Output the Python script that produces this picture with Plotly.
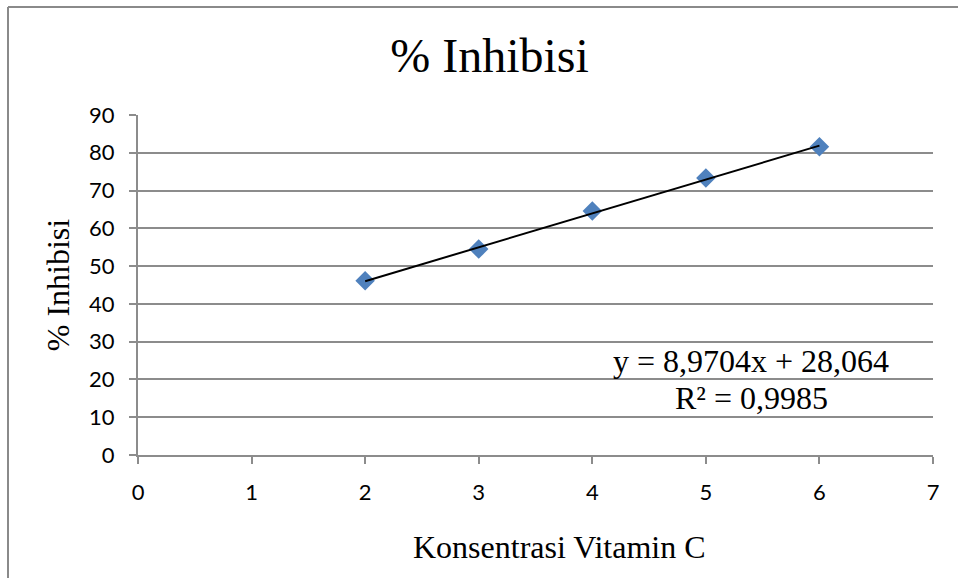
import plotly.graph_objects as go

# Data
konsentrasi = [2, 3, 4, 5, 6]
inhibisi = [46.1, 54.5, 64.6, 73.3, 81.6]
slope = 8.9704
intercept = 28.064
r2 = 0.9985
x_ticks = [0, 1, 2, 3, 4, 5, 6, 7]
y_ticks = [0, 10, 20, 30, 40, 50, 60, 70, 80, 90]

trend_x = [min(konsentrasi), max(konsentrasi)]
trend_y = [slope * v + intercept for v in trend_x]

def fmt(v, d):
    return f"{v:.{d}f}".replace(".", ",")

fig = go.Figure()
fig.add_trace(go.Scatter(
    x=konsentrasi, y=inhibisi, mode="markers",
    marker=dict(symbol="diamond", size=15, color="#4F81BD", line=dict(width=0)),
    showlegend=False, hoverinfo="x+y"))
fig.add_trace(go.Scatter(
    x=trend_x, y=trend_y, mode="lines",
    line=dict(color="black", width=2), showlegend=False, hoverinfo="skip"))

serif = "Liberation Serif"
tickfam = "Lato"
gray = "#8c8c8c"

fig.add_annotation(
    xref="x", yref="y", x=5.40, y=25.0,
    text=f"y = {fmt(slope,4)}x + {fmt(intercept,3)}",
    showarrow=False, font=dict(family=serif, size=32, color="black"),
    xanchor="center", yanchor="middle")
fig.add_annotation(
    xref="x", yref="y", x=5.40, y=15.2,
    text=f"R² = {fmt(r2,4)}",
    showarrow=False, font=dict(family=serif, size=32, color="black"),
    xanchor="center", yanchor="middle")
fig.add_annotation(
    xref="paper", yref="paper", x=0.53, y=-0.272,
    text="Konsentrasi Vitamin C",
    showarrow=False, font=dict(family=serif, size=32, color="black"),
    xanchor="center", yanchor="middle")

fig.update_layout(
    width=958, height=578,
    margin=dict(l=138, r=25, t=115, b=123),
    paper_bgcolor="white", plot_bgcolor="white",
    title=dict(text="% Inhibisi", x=0.511, xanchor="center", y=0.905, yanchor="middle",
               font=dict(family=serif, size=48, color="black")),
    xaxis=dict(range=[0, 7], tickvals=x_ticks, showgrid=False, zeroline=False,
               showline=True, linecolor=gray, linewidth=2,
               ticks="outside", ticklen=7, tickcolor=gray, tickwidth=2,
               ticklabelstandoff=10,
               tickfont=dict(family=tickfam, size=22, color="black")),
    yaxis=dict(range=[0, 90], tickvals=y_ticks, showgrid=True, gridcolor=gray, gridwidth=2,
               zeroline=False, showline=True, linecolor=gray, linewidth=2,
               ticks="outside", ticklen=7, tickcolor=gray, tickwidth=2,
               ticklabelstandoff=10,
               tickfont=dict(family=tickfam, size=22, color="black"),
               title=dict(text="% Inhibisi", standoff=10,
                          font=dict(family=serif, size=32, color="black"))),
    shapes=[
        dict(type="line", xref="paper", yref="paper", x0=-130/795, x1=1.2,
             y0=1 + 108/340, y1=1 + 108/340, line=dict(color="#8a8a8a", width=2)),
        dict(type="line", xref="paper", yref="paper", x0=-130/795, x1=-130/795,
             y0=1 + 108/340, y1=-0.5, line=dict(color="#8a8a8a", width=2)),
    ],
)

fig.write_html("out.html", config={"displayModeBar": False},
               post_script="document.body.style.margin='0';")
